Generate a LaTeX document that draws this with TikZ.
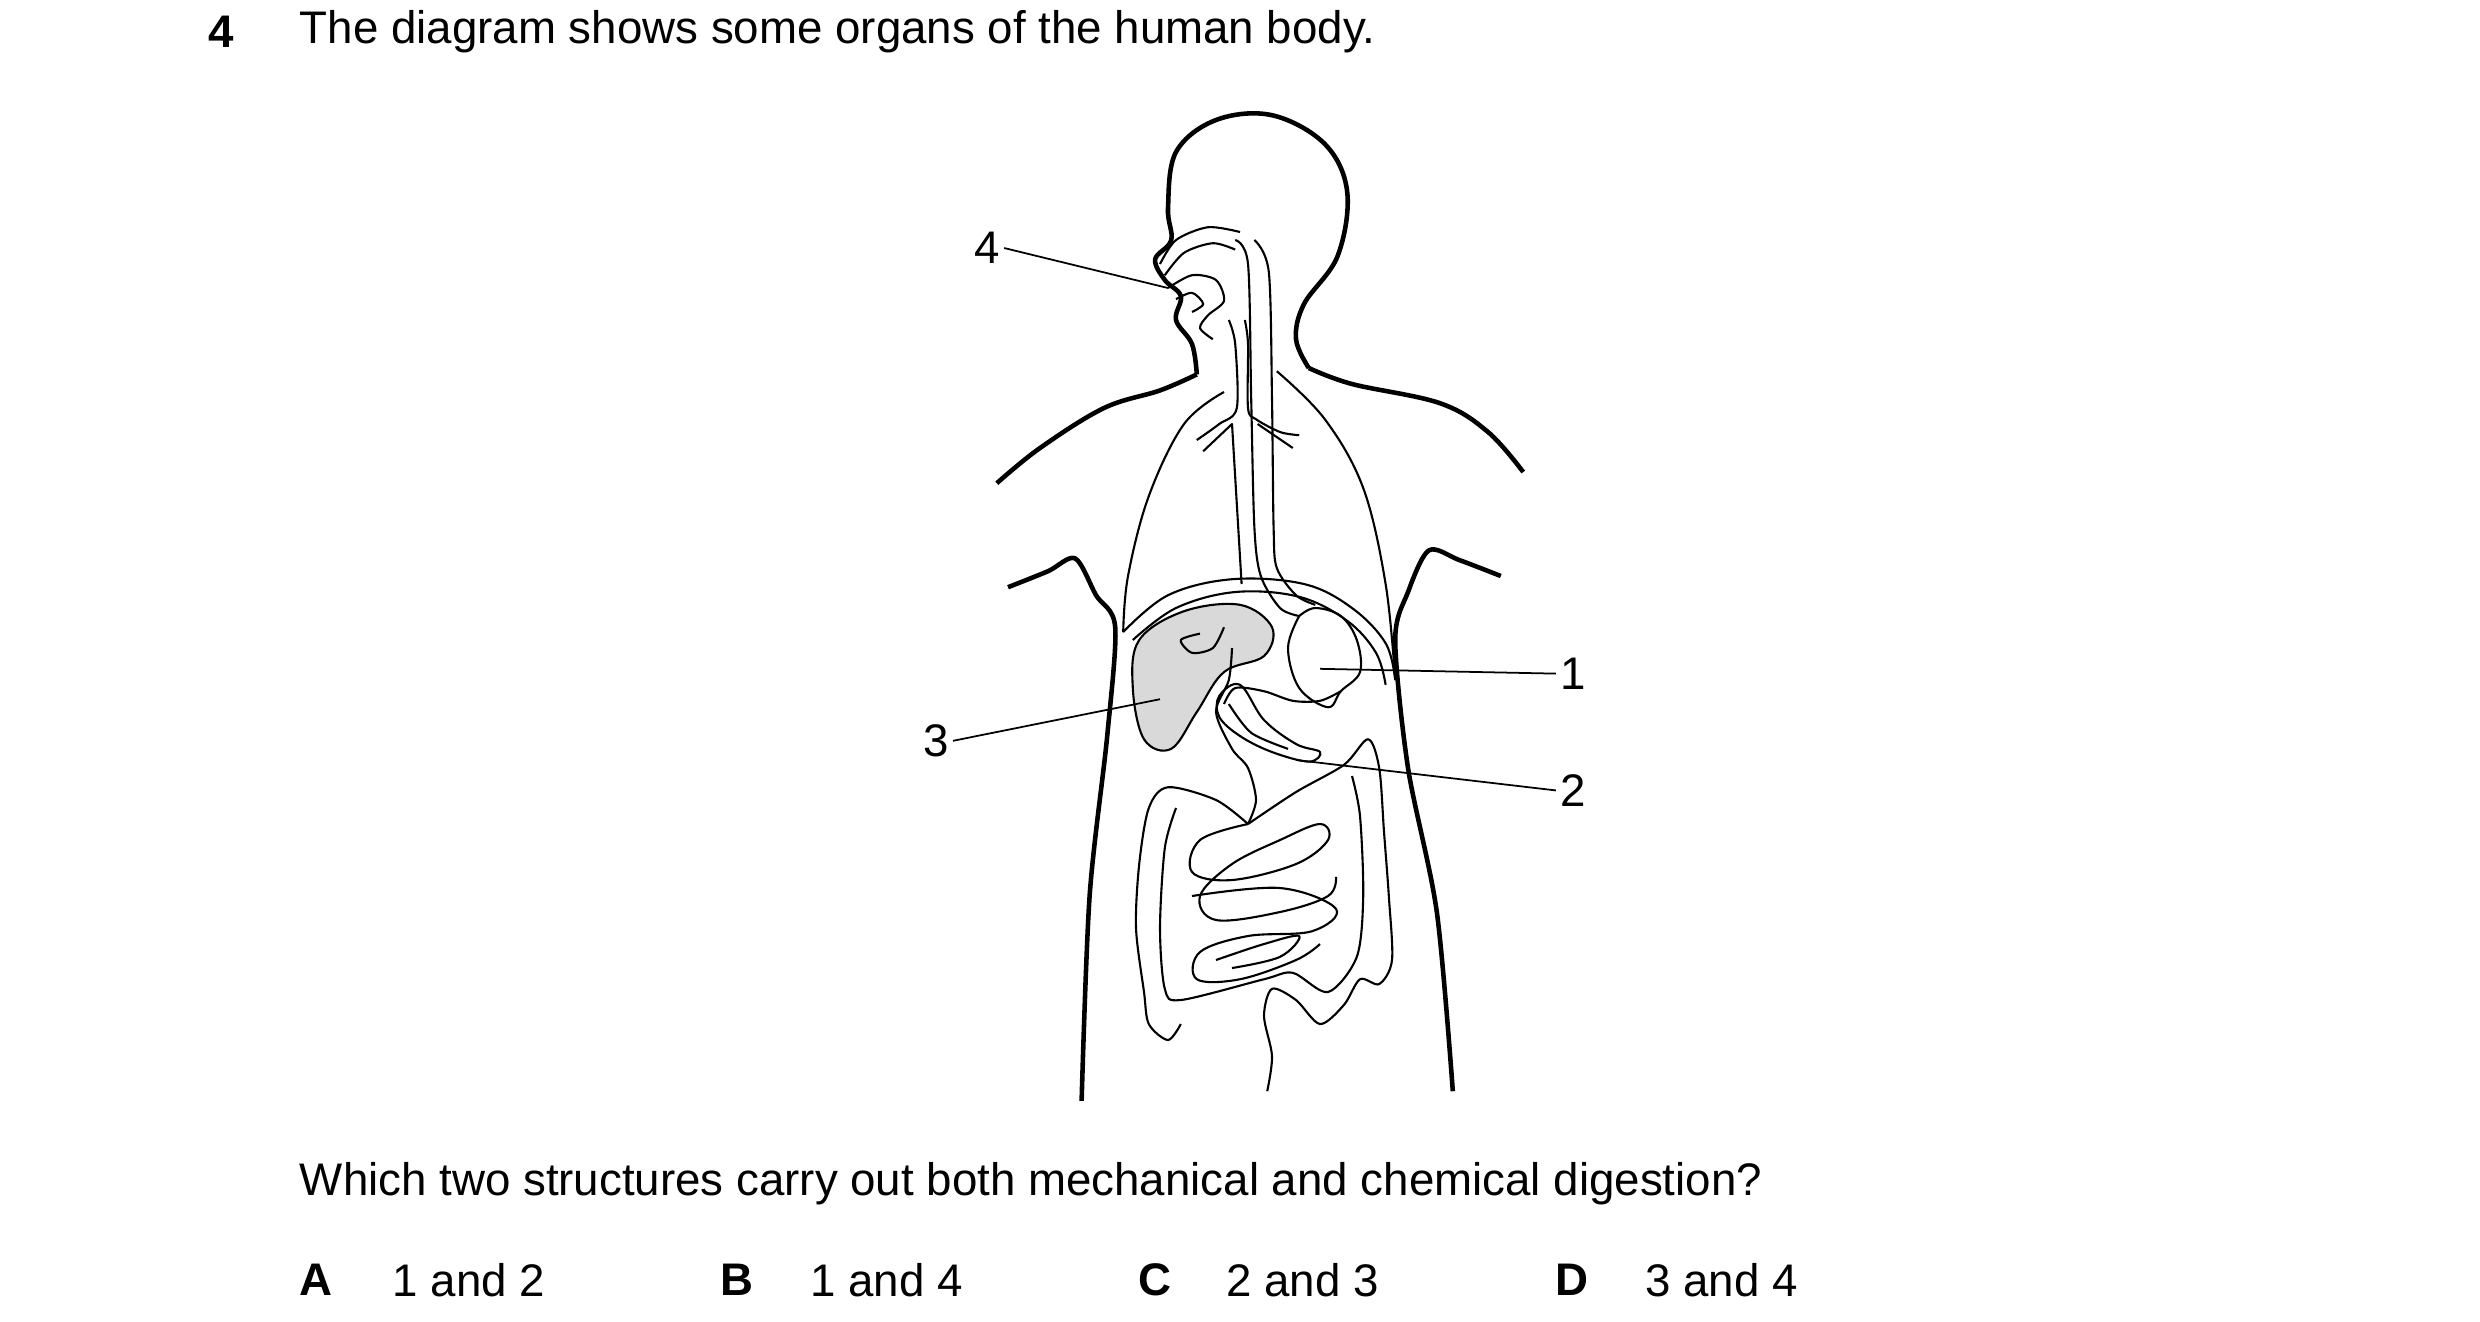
\documentclass[tikz,border=0pt]{standalone}
\usepackage{fontspec}
\setmainfont{Liberation Sans}
\begin{document}
\begin{tikzpicture}[x=0.016cm,y=-0.016cm,
  outline/.style={line width=1.3pt,line join=round},
  organ/.style={line width=0.6pt,line join=round},
  pointer/.style={line width=0.5pt},
  txt/.style={font=\fontsize{13}{15}\selectfont,inner sep=0pt,anchor=west},
  num/.style={font=\fontsize{13}{15}\selectfont,inner sep=1pt}]
\useasboundingbox (0,0) rectangle (1550,826);
% question text
\node[txt,font=\fontsize{13}{15}\selectfont\bfseries] (qn) at (130,20) {4};
\node[txt] (qtext) at (187,20) {The diagram shows some organs of the human body.};
% body outline
\draw[outline] plot[smooth,tension=0.6] coordinates {(748,234) (745,215) (735,200) (738,185) (728,175) (722,162) (732,150) (730,130) (735,95) (760,75) (795,72) (828,90) (842,120) (836,160) (815,190) (810,212) (818,230)};
\draw[outline] plot[smooth,tension=0.6] coordinates {(748,234) (725,244) (690,255) (650,280) (623,302)};
\draw[outline] plot[smooth,tension=0.6] coordinates {(818,230) (845,240) (900,252) (930,270) (952,295)};
\draw[outline] plot[smooth,tension=0.5] coordinates {(630,367) (655,357) (672,349) (685,372) (697,392) (692,460) (681,560) (676,688)};
\draw[outline] plot[smooth,tension=0.5] coordinates {(938,360) (912,350) (893,344) (880,370) (872,400) (880,480) (898,570) (908,682)};
% mouth and nasal cavity
\draw[organ] plot[smooth] coordinates {(725,165) (735,150) (755,142) (775,145)};
\draw[organ] plot[smooth] coordinates {(728,172) (740,158) (758,152) (772,156)};
\draw[organ] plot[smooth] coordinates {(730,180) (745,172) (760,175) (765,188) (755,197) (750,205) (758,212)};
\draw[organ] plot[smooth] coordinates {(735,187) (745,183) (752,190) (745,195)};
% oesophagus and trachea
\draw[organ] plot[smooth] coordinates {(772,150) (780,165) (782,250) (784,330) (788,360) (800,380) (812,385)};
\draw[organ] plot[smooth] coordinates {(784,150) (793,170) (795,250) (796,330) (798,355) (810,372) (822,378)};
\draw[organ] plot[smooth] coordinates {(768,200) (772,215) (773,255) (762,265) (748,275)};
\draw[organ] plot[smooth] coordinates {(778,200) (780,215) (780,255) (785,262) (800,270) (812,272)};
\draw[organ] (752,282) -- (770,265) -- (776,365);
\draw[organ] (808,280) -- (786,265);
% lungs
\draw[organ] plot[smooth,tension=0.6] coordinates {(765,245) (740,265) (718,310) (705,360) (702,395)};
\draw[organ] plot[smooth,tension=0.6] coordinates {(798,232) (828,262) (852,305) (866,365) (872,425)};
% diaphragm
\draw[organ] plot[smooth,tension=0.6] coordinates {(702,395) (730,372) (770,362) (815,365) (845,380) (866,402) (872,425)};
\draw[organ] plot[smooth,tension=0.6] coordinates {(708,400) (735,380) (772,370) (812,373) (842,388) (860,408) (866,428)};
% liver
\draw[organ,fill=gray!30] plot[smooth cycle,tension=0.6] coordinates {(712,400) (740,382) (775,378) (795,392) (790,410) (765,420) (748,445) (732,468) (715,462) (708,430)};
\draw[organ] plot[smooth] coordinates {(765,392) (758,405) (745,408) (738,400) (750,396)};
% stomach
\draw[organ] plot[smooth,tension=0.6] coordinates {(812,385) (805,405) (812,430) (830,442) (838,432) (850,420) (848,400) (838,385) (822,380) (812,385)};
\draw[organ] plot[smooth] coordinates {(838,432) (825,438) (808,438) (790,432) (772,430) (765,440)};
% pancreas
\draw[organ] plot[smooth cycle,tension=0.6] coordinates {(762,435) (775,428) (790,450) (810,465) (825,470) (818,476) (795,470) (775,460) (762,448)};
\draw[organ] plot[smooth] coordinates {(768,440) (782,458) (805,468)};
\draw[organ] plot[smooth] coordinates {(770,405) (768,425) (760,445) (770,468) (780,480) (785,500) (780,515)};
% large intestine
\draw[organ] plot[smooth,tension=0.5] coordinates {(780,515) (760,500) (730,492) (718,505) (712,540) (710,580) (715,620) (718,640) (730,650) (738,640)};
\draw[organ] plot[smooth,tension=0.5] coordinates {(780,515) (810,495) (840,478) (855,462) (862,480) (865,520) (868,560) (870,600) (862,615) (850,612) (840,628) (825,640) (810,625) (795,618) (790,635) (795,660) (792,682)};
\draw[organ] plot[smooth,tension=0.5] coordinates {(735,505) (728,530) (725,580) (728,618) (738,625) (790,612) (808,608) (830,620) (848,598) (852,560) (850,510) (845,485)};
% small intestine coils
\draw[organ] plot[smooth,tension=0.6] coordinates {(780,515) (750,525) (745,545) (770,550) (810,540) (830,525) (825,515) (800,525) (770,540) (750,560) (760,575) (800,570) (830,560) (835,548)};
\draw[organ] plot[smooth,tension=0.6] coordinates {(745,560) (800,555) (835,568) (820,582) (780,585) (750,595) (748,612) (775,612) (810,600) (825,590)};
\draw[organ] plot[smooth,tension=0.6] coordinates {(760,600) (790,590) (812,585) (800,598) (770,605)};
% pointer lines and labels
\node[num] (l4) at (617,155) {4};
\coordinate (p4) at (730,180);
\draw[pointer] (l4.east) -- (p4);
\node[num] (l1) at (983,421) {1};
\coordinate (p1) at (825,418);
\draw[pointer] (l1.west) -- (p1);
\node[num] (l3) at (585,463) {3};
\coordinate (p3) at (725,437);
\draw[pointer] (l3.east) -- (p3);
\node[num] (l2) at (983,494) {2};
\coordinate (p2) at (810,475);
\draw[pointer] (l2.west) -- (p2);
% question and options
\node[txt] (ask) at (187,740) {Which two structures carry out both mechanical and chemical digestion?};
\node[txt,font=\fontsize{13}{15}\selectfont\bfseries] (oa) at (187,800) {A};
\node[txt] (ta) at (245,800) {1 and 2};
\node[txt,font=\fontsize{13}{15}\selectfont\bfseries] (ob) at (450,800) {B};
\node[txt] (tb) at (506,800) {1 and 4};
\node[txt,font=\fontsize{13}{15}\selectfont\bfseries] (oc) at (711,800) {C};
\node[txt] (tc) at (766,800) {2 and 3};
\node[txt,font=\fontsize{13}{15}\selectfont\bfseries] (od) at (972,800) {D};
\node[txt] (td) at (1028,800) {3 and 4};
\end{tikzpicture}
\end{document}
